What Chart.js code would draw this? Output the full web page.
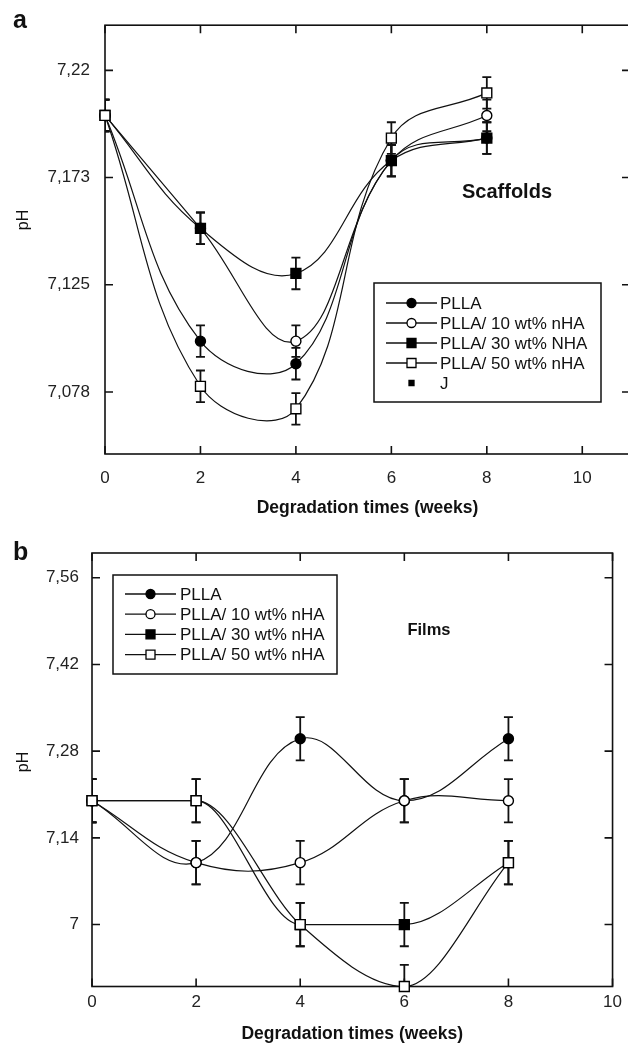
<!DOCTYPE html>
<html>
<head>
<meta charset="utf-8">
<script src="https://cdn.jsdelivr.net/npm/chart.js@4.4.1/dist/chart.umd.min.js"></script>
<style>
html, body { margin: 0; padding: 0; background: #fff; width: 628px; height: 1048px; overflow: hidden; }
.panel { position: absolute; left: 0; }
#topPanel { top: 0; width: 640px; height: 524px; }
#bottomPanel { top: 524px; width: 628px; height: 524px; }
</style>
</head>
<body>
<div class="panel" id="topPanel"><canvas id="scaffoldChart"></canvas></div>
<div class="panel" id="bottomPanel"><canvas id="filmChart"></canvas></div>
<script>
const weeks = [0, 2, 4, 6, 8];
const xTickValues = [0, 2, 4, 6, 8, 10];

// (a) scaffolds
const scaffoldNames = ['PLLA', 'PLLA/ 10 wt% nHA', 'PLLA/ 30 wt% NHA', 'PLLA/ 50 wt% nHA'];
const scaffoldPLLA = [7.20, 7.10, 7.09, 7.18, 7.19];
const scaffold10 = [7.20, 7.15, 7.10, 7.18, 7.20];
const scaffold30 = [7.20, 7.15, 7.13, 7.18, 7.19];
const scaffold50 = [7.20, 7.08, 7.07, 7.19, 7.21];
const scaffoldErr = [0.007, 0.007, 0.007, 0.007, 0.007];
const scaffoldYTicks = [7.0775, 7.125, 7.1725, 7.22];
const scaffoldYLabels = ['7,078', '7,125', '7,173', '7,22'];

// (b) films
const filmNames = ['PLLA', 'PLLA/ 10 wt% nHA', 'PLLA/ 30 wt% nHA', 'PLLA/ 50 wt% nHA'];
const filmPLLA = [7.20, 7.10, 7.30, 7.20, 7.30];
const film10 = [7.20, 7.10, 7.10, 7.20, 7.20];
const film30 = [7.20, 7.20, 7.00, 7.00, 7.10];
const film50 = [7.20, 7.20, 7.00, 6.90, 7.10];
const filmErr = [0.035, 0.035, 0.035, 0.035, 0.035];
const filmYTicks = [7.00, 7.14, 7.28, 7.42, 7.56];
const filmYLabels = ['7', '7,14', '7,28', '7,42', '7,56'];

const FONT = "'Liberation Sans', Arial, sans-serif";
const INK = '#111';

const markerStyles = [
    { shape: 'circle', fill: '#000', radius: 5 },
    { shape: 'circle', fill: '#fff', radius: 5 },
    { shape: 'rect', fill: '#000', radius: 7 },
    { shape: 'rect', fill: '#fff', radius: 7 }
];

function makeDataset(label, values, i, errors, curve) {
    const m = markerStyles[i];
    return {
        label: label,
        data: weeks.map((w, k) => ({ x: w, y: values[k] })),
        errors: errors,
        borderColor: INK,
        borderWidth: 1.2,
        pointStyle: m.shape,
        pointRadius: m.radius,
        pointHoverRadius: m.radius,
        pointBackgroundColor: m.fill,
        pointBorderColor: '#000',
        pointBorderWidth: 1.4,
        legendShape: m.shape,
        legendFill: m.fill,
        legendSize: 4.5,
        tension: 0.4,
        cubicInterpolationMode: curve || 'default',
        fill: false,
        clip: false,
        order: 4 - i
    };
}

function drawMarker(ctx, shape, x, y, size, fill) {
    ctx.beginPath();
    if (shape === 'circle') ctx.arc(x, y, size, 0, Math.PI * 2);
    else ctx.rect(x - size, y - size, size * 2, size * 2);
    ctx.fillStyle = fill;
    ctx.fill();
    ctx.lineWidth = 1.3;
    ctx.strokeStyle = '#000';
    ctx.stroke();
}

// box round the plot, with inward ticks on all four sides
const frameTicks = {
    id: 'frameTicks',
    beforeDatasetsDraw(chart) {
        const { ctx, chartArea: a, scales } = chart;
        const len = 8;
        ctx.save();
        ctx.strokeStyle = INK;
        ctx.lineWidth = 1.6;
        ctx.strokeRect(a.left, a.top, a.right - a.left, a.bottom - a.top);
        ctx.beginPath();
        scales.x.ticks.forEach(t => {
            const px = scales.x.getPixelForValue(t.value);
            ctx.moveTo(px, a.bottom); ctx.lineTo(px, a.bottom - len);
            ctx.moveTo(px, a.top); ctx.lineTo(px, a.top + len);
        });
        scales.y.ticks.forEach(t => {
            const py = scales.y.getPixelForValue(t.value);
            ctx.moveTo(a.left, py); ctx.lineTo(a.left + len, py);
            ctx.moveTo(a.right, py); ctx.lineTo(a.right - len, py);
        });
        ctx.stroke();
        ctx.restore();
    }
};

// vertical error bars from each dataset's errors list
const errorBars = {
    id: 'errorBars',
    beforeDatasetsDraw(chart) {
        const { ctx, chartArea: a, scales } = chart;
        ctx.save();
        ctx.beginPath();
        ctx.rect(a.left, a.top, a.right - a.left, a.bottom - a.top);
        ctx.clip();
        ctx.strokeStyle = INK;
        ctx.lineWidth = 1.8;
        chart.data.datasets.forEach(ds => {
            if (!ds.errors) return;
            ds.data.forEach((p, k) => {
                const e = ds.errors[k];
                const px = scales.x.getPixelForValue(p.x);
                const top = scales.y.getPixelForValue(p.y + e);
                const bot = scales.y.getPixelForValue(p.y - e);
                ctx.beginPath();
                ctx.moveTo(px, top); ctx.lineTo(px, bot);
                ctx.moveTo(px - 4.5, top); ctx.lineTo(px + 4.5, top);
                ctx.moveTo(px - 4.5, bot); ctx.lineTo(px + 4.5, bot);
                ctx.stroke();
            });
        });
        ctx.restore();
    }
};

// framed legend with line-through-marker keys, plus free text labels
const boxLegend = {
    id: 'boxLegend',
    afterDraw(chart, args, opts) {
        const ctx = chart.ctx;
        ctx.save();
        ctx.strokeStyle = INK;
        ctx.lineWidth = 1.5;
        ctx.strokeRect(opts.left, opts.top, opts.width, opts.height);
        ctx.font = '17px ' + FONT;
        ctx.textBaseline = 'middle';
        chart.data.datasets.forEach((ds, i) => {
            const y = opts.firstRow + i * opts.rowGap;
            if (ds.showLine !== false) {
                ctx.beginPath();
                ctx.moveTo(opts.lineStart, y);
                ctx.lineTo(opts.lineEnd, y);
                ctx.lineWidth = 1.3;
                ctx.strokeStyle = INK;
                ctx.stroke();
            }
            drawMarker(ctx, ds.legendShape, (opts.lineStart + opts.lineEnd) / 2, y, ds.legendSize, ds.legendFill);
            ctx.fillStyle = '#111';
            ctx.fillText(ds.label, opts.textX, y + 1);
        });
        (opts.texts || []).forEach(t => {
            ctx.save();
            ctx.translate(t.x, t.y);
            if (t.rotate) ctx.rotate(t.rotate);
            ctx.font = t.font;
            ctx.textAlign = t.align || 'left';
            ctx.textBaseline = t.baseline || 'middle';
            ctx.fillStyle = '#111';
            ctx.fillText(t.text, 0, 0);
            ctx.restore();
        });
        ctx.restore();
    }
};

function baseScales(opts) {
    return {
        x: {
            type: 'linear',
            min: 0,
            max: opts.xMax,
            afterBuildTicks: s => { s.ticks = xTickValues.map(v => ({ value: v })); },
            afterFit: s => { s.height = opts.xHeight; },
            grid: { display: false, drawTicks: false },
            border: { display: false },
            ticks: { color: '#222', font: { family: FONT, size: 17 }, padding: opts.xTickPad, maxRotation: 0 },
            title: {
                display: true,
                text: 'Degradation times (weeks)',
                color: '#111',
                font: { family: FONT, size: 17.5, weight: 'bold' },
                padding: { top: 0, bottom: opts.xTitlePad }
            }
        },
        y: {
            min: opts.yMin,
            max: opts.yMax,
            afterBuildTicks: s => { s.ticks = opts.yTicks.map(v => ({ value: v })); },
            afterFit: s => { s.width = opts.yWidth; },
            grid: { display: false, drawTicks: false },
            border: { display: false },
            ticks: {
                color: '#222',
                font: { family: FONT, size: 17 },
                padding: opts.yTickPad,
                callback: (v, i) => opts.yLabels[i]
            },
            title: { display: false }
        }
    };
}

// chart a
const scaffoldSets = [
    makeDataset(scaffoldNames[0], scaffoldPLLA, 0, scaffoldErr),
    makeDataset(scaffoldNames[1], scaffold10, 1, scaffoldErr),
    makeDataset(scaffoldNames[2], scaffold30, 2, scaffoldErr),
    makeDataset(scaffoldNames[3], scaffold50, 3, scaffoldErr),
    { label: 'J', data: [], showLine: false, legendShape: 'rect', legendFill: '#000', legendSize: 2.5 }
];

new Chart(document.getElementById('scaffoldChart'), {
    type: 'line',
    data: { datasets: scaffoldSets },
    options: {
        responsive: true,
        maintainAspectRatio: false,
        animation: false,
        events: [],
        layout: { padding: { top: 20, right: 10, left: 0, bottom: 0 } },
        scales: baseScales({
            xMax: 11, xHeight: 70, xTickPad: 14, xTitlePad: 5,
            yMin: 7.05, yMax: 7.24, yTicks: scaffoldYTicks, yLabels: scaffoldYLabels,
            yWidth: 105, yTickPad: 15
        }),
        plugins: {
            legend: { display: false },
            tooltip: { enabled: false },
            boxLegend: {
                left: 374, top: 283, width: 227, height: 119,
                firstRow: 303, rowGap: 20,
                lineStart: 386, lineEnd: 437, textX: 440,
                texts: [
                    { text: 'Scaffolds', x: 507, y: 192, align: 'center', font: 'bold 20px ' + FONT },
                    { text: 'a', x: 13, y: 28, baseline: 'alphabetic', font: 'bold 25px ' + FONT },
                    { text: 'pH', x: 24, y: 220, align: 'center', rotate: -Math.PI / 2, font: '16px ' + FONT }
                ]
            }
        }
    },
    plugins: [frameTicks, errorBars, boxLegend]
});

// chart b
const filmSets = [
    makeDataset(filmNames[0], filmPLLA, 0, filmErr),
    makeDataset(filmNames[1], film10, 1, filmErr),
    makeDataset(filmNames[2], film30, 2, filmErr, 'monotone'),
    makeDataset(filmNames[3], film50, 3, filmErr, 'monotone')
];

new Chart(document.getElementById('filmChart'), {
    type: 'line',
    data: { datasets: filmSets },
    options: {
        responsive: true,
        maintainAspectRatio: false,
        animation: false,
        events: [],
        layout: { padding: { top: 29, right: 11, left: 0, bottom: 0 } },
        scales: baseScales({
            xMax: 10, xHeight: 61.5, xTickPad: 6, xTitlePad: 3.5,
            yMin: 6.90, yMax: 7.60, yTicks: filmYTicks, yLabels: filmYLabels,
            yWidth: 92, yTickPad: 13
        }),
        plugins: {
            legend: { display: false },
            tooltip: { enabled: false },
            boxLegend: {
                left: 113, top: 51, width: 224, height: 99,
                firstRow: 70, rowGap: 20.2,
                lineStart: 125, lineEnd: 176, textX: 180,
                texts: [
                    { text: 'Films', x: 429, y: 106, align: 'center', font: 'bold 16.5px ' + FONT },
                    { text: 'b', x: 13, y: 36, baseline: 'alphabetic', font: 'bold 25px ' + FONT },
                    { text: 'pH', x: 24, y: 238, align: 'center', rotate: -Math.PI / 2, font: '16px ' + FONT }
                ]
            }
        }
    },
    plugins: [frameTicks, errorBars, boxLegend]
});
</script>
</body>
</html>
